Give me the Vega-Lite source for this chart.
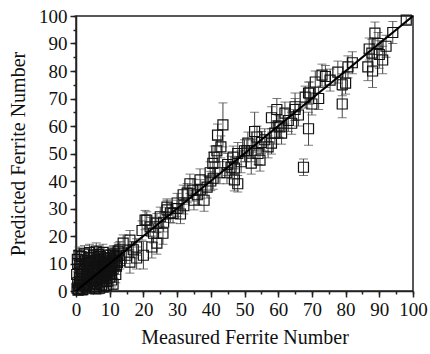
{
  "$schema": "https://vega.github.io/schema/vega-lite/v6.json",
  "width": 337,
  "height": 275,
  "autosize": "none",
  "padding": {"left": 76, "top": 16, "right": 17, "bottom": 63},
  "background": "white",
  "config": {
    "font": "Liberation Serif",
    "view": {"stroke": "#222", "strokeWidth": 1.5},
    "axis": {
      "grid": false,
      "domainColor": "#222",
      "domainWidth": 1.5,
      "tickColor": "#222",
      "tickWidth": 1.5,
      "labelColor": "#111",
      "titleColor": "#111"
    }
  },
  "data": {
    "values": [
      {"m": 0.3, "p": 1, "e": 2}, {"m": 0.5, "p": 3, "e": 2}, {"m": 0.8, "p": 0.5, "e": 1.5}, {"m": 1, "p": 2, "e": 2},
      {"m": 1, "p": 5, "e": 3}, {"m": 1.2, "p": 8, "e": 3}, {"m": 0.5, "p": 10, "e": 3}, {"m": 0.4, "p": 11.5, "e": 3},
      {"m": 1.5, "p": 1, "e": 2}, {"m": 1.8, "p": 4, "e": 2.5}, {"m": 2, "p": 6, "e": 3}, {"m": 2, "p": 0.5, "e": 2},
      {"m": 2.2, "p": 2.5, "e": 2}, {"m": 2.5, "p": 9, "e": 3}, {"m": 2.8, "p": 11, "e": 3}, {"m": 3, "p": 1.5, "e": 2},
      {"m": 3, "p": 4, "e": 2}, {"m": 3.2, "p": 6.5, "e": 3}, {"m": 3.5, "p": 3, "e": 2}, {"m": 3.5, "p": 8, "e": 3},
      {"m": 3.8, "p": 12, "e": 3}, {"m": 4, "p": 1, "e": 2}, {"m": 4, "p": 5, "e": 3}, {"m": 4.2, "p": 2.5, "e": 2},
      {"m": 4.5, "p": 7, "e": 3}, {"m": 4.5, "p": 10, "e": 3}, {"m": 5, "p": 3.5, "e": 2.5}, {"m": 5, "p": 6, "e": 3},
      {"m": 5.2, "p": 13, "e": 3}, {"m": 5.5, "p": 1.5, "e": 2}, {"m": 5.5, "p": 8.5, "e": 3}, {"m": 5.8, "p": 4.5, "e": 2.5},
      {"m": 6, "p": 6.5, "e": 3}, {"m": 6, "p": 10, "e": 3}, {"m": 6.2, "p": 2.5, "e": 2}, {"m": 6.5, "p": 7.5, "e": 3},
      {"m": 6.5, "p": 11.5, "e": 3}, {"m": 6.8, "p": 5, "e": 2.5}, {"m": 7, "p": 3, "e": 2}, {"m": 7, "p": 8.5, "e": 3},
      {"m": 7.2, "p": 12.5, "e": 3}, {"m": 7.5, "p": 6, "e": 3}, {"m": 7.5, "p": 9.5, "e": 3}, {"m": 7.8, "p": 4, "e": 2},
      {"m": 8, "p": 7, "e": 3}, {"m": 8, "p": 10.5, "e": 3}, {"m": 8.2, "p": 1.5, "e": 2}, {"m": 8.5, "p": 8, "e": 3},
      {"m": 8.5, "p": 12, "e": 3}, {"m": 8.8, "p": 5.5, "e": 2.5}, {"m": 9, "p": 9, "e": 3}, {"m": 9, "p": 11, "e": 3},
      {"m": 9.2, "p": 3.5, "e": 2}, {"m": 9.5, "p": 7, "e": 3}, {"m": 9.5, "p": 13, "e": 3}, {"m": 9.8, "p": 10, "e": 3},
      {"m": 10, "p": 5, "e": 3}, {"m": 10, "p": 8.5, "e": 3}, {"m": 10.2, "p": 12, "e": 3}, {"m": 10.5, "p": 9.5, "e": 3},
      {"m": 10.5, "p": 6.5, "e": 3}, {"m": 10.8, "p": 11, "e": 3}, {"m": 11, "p": 2.5, "e": 2}, {"m": 11, "p": 8, "e": 3},
      {"m": 11.2, "p": 13.5, "e": 3}, {"m": 11.5, "p": 10.5, "e": 3}, {"m": 11.8, "p": 6, "e": 3}, {"m": 12, "p": 12, "e": 3},
      {"m": 12, "p": 9, "e": 3}, {"m": 2.5, "p": 13.5, "e": 3}, {"m": 3, "p": 10, "e": 3}, {"m": 4, "p": 14, "e": 3},
      {"m": 1.5, "p": 12.5, "e": 3}, {"m": 6, "p": 14.5, "e": 3}, {"m": 8, "p": 14, "e": 3}, {"m": 9, "p": 2, "e": 2},
      {"m": 12.5, "p": 14.5, "e": 3}, {"m": 13, "p": 11, "e": 3}, {"m": 0.2, "p": 6, "e": 3}, {"m": 5, "p": 11, "e": 3},
      {"m": 7, "p": 1, "e": 2},
      {"m": 0.6, "p": 0.3, "e": 1.5}, {"m": 1.3, "p": 3.5, "e": 2}, {"m": 1.7, "p": 7, "e": 3}, {"m": 2.4, "p": 4.5, "e": 2.5},
      {"m": 2.7, "p": 2, "e": 2}, {"m": 3.3, "p": 5.5, "e": 2.5}, {"m": 3.9, "p": 9, "e": 3}, {"m": 4.3, "p": 3.8, "e": 2},
      {"m": 4.8, "p": 5.2, "e": 2.5}, {"m": 5.3, "p": 7.2, "e": 3}, {"m": 5.6, "p": 2.8, "e": 2}, {"m": 6.1, "p": 8.2, "e": 3},
      {"m": 6.4, "p": 4, "e": 2.5}, {"m": 6.9, "p": 6.8, "e": 3}, {"m": 7.3, "p": 10.8, "e": 3}, {"m": 7.6, "p": 2.2, "e": 2},
      {"m": 8.1, "p": 5, "e": 2.5}, {"m": 8.3, "p": 9.2, "e": 3}, {"m": 8.7, "p": 6.6, "e": 3}, {"m": 9.1, "p": 4.6, "e": 2.5},
      {"m": 9.4, "p": 8.2, "e": 3}, {"m": 9.7, "p": 11.8, "e": 3}, {"m": 10.3, "p": 7.4, "e": 3}, {"m": 10.6, "p": 4, "e": 2.5},
      {"m": 11.3, "p": 9.2, "e": 3}, {"m": 11.6, "p": 12.5, "e": 3}, {"m": 12.3, "p": 10.4, "e": 3}, {"m": 2.1, "p": 8, "e": 3},
      {"m": 3.6, "p": 11, "e": 3}, {"m": 4.7, "p": 12.2, "e": 3}, {"m": 1.1, "p": 9.5, "e": 3}, {"m": 6.6, "p": 13.2, "e": 3},
      {"m": 5.9, "p": 0.8, "e": 1.5}, {"m": 9.9, "p": 6, "e": 3}, {"m": 0.9, "p": 13, "e": 3}, {"m": 12.8, "p": 13, "e": 3},
      {"m": 13, "p": 15, "e": 3}, {"m": 14, "p": 17.4, "e": 3}, {"m": 11, "p": 13, "e": 3}, {"m": 15, "p": 13, "e": 3},
      {"m": 16, "p": 18.5, "e": 3.5}, {"m": 16, "p": 10.5, "e": 4}, {"m": 17, "p": 15, "e": 3}, {"m": 18, "p": 12, "e": 4},
      {"m": 18, "p": 16, "e": 3}, {"m": 19.6, "p": 22, "e": 3.5}, {"m": 20, "p": 13, "e": 5}, {"m": 20.5, "p": 25.8, "e": 3.5},
      {"m": 21, "p": 25.8, "e": 3}, {"m": 22, "p": 23.3, "e": 3.5}, {"m": 22.5, "p": 16, "e": 4}, {"m": 23, "p": 21, "e": 3.5},
      {"m": 24, "p": 17.4, "e": 4}, {"m": 24, "p": 24.7, "e": 3.5}, {"m": 25, "p": 27, "e": 3.5}, {"m": 25.8, "p": 21, "e": 4},
      {"m": 26, "p": 25, "e": 3.5}, {"m": 27, "p": 29.5, "e": 3.5}, {"m": 27, "p": 30.5, "e": 3}, {"m": 28, "p": 28.4, "e": 3.5},
      {"m": 28.8, "p": 28.2, "e": 3.5}, {"m": 30, "p": 32, "e": 3.5}, {"m": 30, "p": 30, "e": 3}, {"m": 31, "p": 28, "e": 3.5},
      {"m": 31.8, "p": 35, "e": 3.5}, {"m": 32, "p": 31, "e": 3}, {"m": 33, "p": 35.6, "e": 3.5}, {"m": 33.8, "p": 39, "e": 3.5},
      {"m": 34.7, "p": 36.7, "e": 4}, {"m": 35, "p": 33, "e": 3.5}, {"m": 36, "p": 35, "e": 3.5}, {"m": 36.8, "p": 40.4, "e": 4},
      {"m": 37, "p": 37, "e": 3.5}, {"m": 38, "p": 33, "e": 4}, {"m": 38.9, "p": 37.8, "e": 4}, {"m": 39.8, "p": 43, "e": 4},
      {"m": 40, "p": 40, "e": 3.5},
      {"m": 40.6, "p": 46.4, "e": 4}, {"m": 40.7, "p": 41, "e": 4}, {"m": 41, "p": 48.7, "e": 4}, {"m": 41.8, "p": 51, "e": 4},
      {"m": 42, "p": 56.7, "e": 4}, {"m": 42.7, "p": 43, "e": 4}, {"m": 43, "p": 52.4, "e": 4}, {"m": 43.6, "p": 60.4, "e": 8},
      {"m": 44.8, "p": 43, "e": 4}, {"m": 45, "p": 46, "e": 4}, {"m": 46, "p": 45, "e": 4}, {"m": 46.6, "p": 48.7, "e": 4},
      {"m": 47, "p": 40.4, "e": 4}, {"m": 47, "p": 44.7, "e": 4}, {"m": 48, "p": 39, "e": 3}, {"m": 48, "p": 50, "e": 4},
      {"m": 49, "p": 47, "e": 4}, {"m": 50, "p": 51, "e": 4}, {"m": 50.7, "p": 51, "e": 4}, {"m": 51, "p": 53.8, "e": 4},
      {"m": 52, "p": 46.5, "e": 4}, {"m": 52, "p": 51, "e": 4}, {"m": 53, "p": 58, "e": 7}, {"m": 53.7, "p": 56, "e": 4},
      {"m": 54, "p": 50, "e": 4}, {"m": 54.6, "p": 47.6, "e": 4}, {"m": 55, "p": 54, "e": 4}, {"m": 56, "p": 55, "e": 4},
      {"m": 57, "p": 52.4, "e": 4}, {"m": 58, "p": 53.8, "e": 4}, {"m": 58, "p": 63, "e": 4}, {"m": 59, "p": 57.4, "e": 4},
      {"m": 59.6, "p": 66, "e": 4}, {"m": 60, "p": 60, "e": 4}, {"m": 60.5, "p": 59.7, "e": 4}, {"m": 61, "p": 57.4, "e": 4},
      {"m": 62, "p": 64.7, "e": 4}, {"m": 63, "p": 62, "e": 4}, {"m": 64, "p": 61, "e": 4}, {"m": 65, "p": 66, "e": 4},
      {"m": 65, "p": 67, "e": 5}, {"m": 66, "p": 64, "e": 4}, {"m": 67.5, "p": 45, "e": 3}, {"m": 68, "p": 70.5, "e": 4},
      {"m": 69, "p": 59, "e": 6}, {"m": 69, "p": 72, "e": 4}, {"m": 69.4, "p": 72, "e": 4}, {"m": 70, "p": 68, "e": 4},
      {"m": 71, "p": 76, "e": 4}, {"m": 72, "p": 70, "e": 4}, {"m": 73, "p": 78.5, "e": 4}, {"m": 74, "p": 78, "e": 4},
      {"m": 75.4, "p": 76.7, "e": 4}, {"m": 77.7, "p": 79.6, "e": 4}, {"m": 79, "p": 75, "e": 4}, {"m": 79, "p": 68, "e": 5},
      {"m": 80, "p": 75.6, "e": 4}, {"m": 80.7, "p": 81.5, "e": 4}, {"m": 82, "p": 83, "e": 4}, {"m": 86.6, "p": 81.5, "e": 5},
      {"m": 87, "p": 88, "e": 4}, {"m": 87.8, "p": 86.5, "e": 5}, {"m": 88, "p": 80, "e": 6}, {"m": 88.7, "p": 93.8, "e": 4},
      {"m": 89.6, "p": 90, "e": 4}, {"m": 90, "p": 86, "e": 5}, {"m": 91, "p": 84, "e": 5}, {"m": 92, "p": 89, "e": 4},
      {"m": 94, "p": 94, "e": 4}, {"m": 98, "p": 98.5, "e": 1.5}
    ]
  },
  "resolve": {"axis": {"x": "independent", "y": "independent"}},
  "layer": [
    {
      "mark": {
        "type": "errorbar",
        "ticks": {"size": 9, "thickness": 1, "color": "#444"},
        "rule": {"color": "#444", "strokeWidth": 1}
      },
      "encoding": {
        "x": {
          "field": "m",
          "type": "quantitative",
          "scale": {"domain": [0, 100], "nice": false, "zero": false},
          "axis": {
            "orient": "bottom",
            "title": "Measured Ferrite Number",
            "tickCount": 10,
            "tickSize": 6,
            "labelFont": "Liberation Serif",
            "labelFontSize": 19,
            "labelAlign": "center",
            "labelPadding": 3,
            "titleFont": "Liberation Serif",
            "titleFontSize": 20,
            "titleFontWeight": "normal",
            "titlePadding": 8
          }
        },
        "y": {
          "field": "p",
          "type": "quantitative",
          "scale": {"domain": [0, 100], "nice": false, "zero": false},
          "axis": {
            "orient": "left",
            "title": "Predicted Ferrite Number",
            "tickCount": 10,
            "tickSize": 6,
            "labelFont": "Liberation Serif",
            "labelFontSize": 19,
            "labelBaseline": "middle",
            "labelPadding": 3,
            "titleFont": "Liberation Serif",
            "titleFontSize": 20,
            "titleFontWeight": "normal",
            "titlePadding": 10
          }
        },
        "yError": {"field": "e"}
      }
    },
    {
      "mark": {"type": "point", "shape": "square", "size": 100, "filled": false, "stroke": "#111", "strokeWidth": 1.2, "opacity": 1},
      "encoding": {
        "x": {
          "field": "m",
          "type": "quantitative",
          "axis": {
            "orient": "bottom",
            "title": null,
            "tickCount": 20,
            "tickSize": 3,
            "labels": false,
            "domain": false
          }
        },
        "y": {
          "field": "p",
          "type": "quantitative",
          "axis": {
            "orient": "left",
            "title": null,
            "tickCount": 20,
            "tickSize": 3,
            "labels": false,
            "domain": false
          }
        }
      }
    },
    {
      "data": {"values": [{"m": 0, "p": 0}, {"m": 100, "p": 100}]},
      "mark": {"type": "line", "color": "#000", "strokeWidth": 2.2},
      "encoding": {
        "x": {"field": "m", "type": "quantitative", "axis": null},
        "y": {"field": "p", "type": "quantitative", "axis": null}
      }
    }
  ]
}
